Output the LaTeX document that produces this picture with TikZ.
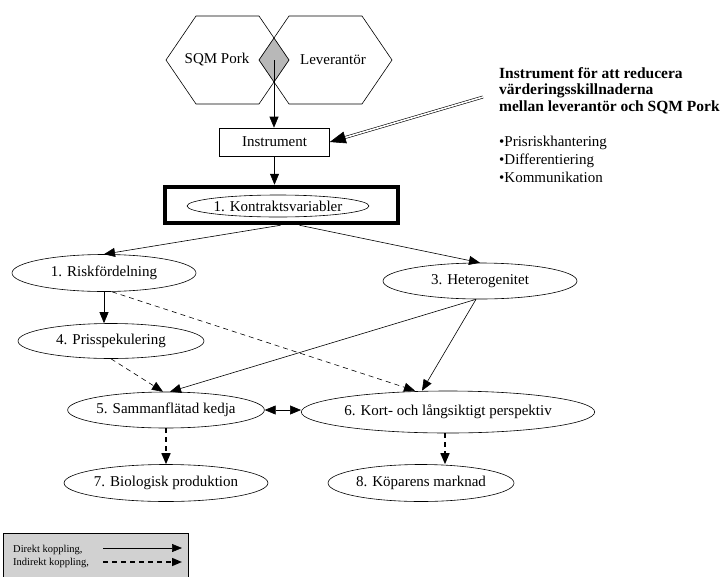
\documentclass[tikz,border=0pt]{standalone}
\usepackage{fontspec}
\setmainfont{Liberation Serif}
\usetikzlibrary{shapes.geometric,arrows.meta,calc}
\begin{document}
\begin{tikzpicture}[x=1pt,y=-1pt,
  every node/.style={font=\fontsize{15}{17}\selectfont},
  ell/.style={draw, ellipse, inner sep=0pt, line width=0.6pt},
  tip/.style={-{Triangle[length=11pt,width=9pt]}},
  ln/.style={line width=0.6pt},
  dsh/.style={line width=0.6pt, dash pattern=on 5pt off 4pt},
  tdsh/.style={line width=1.5pt, dash pattern=on 5pt off 4pt},
  bold/.style={anchor=base west, inner sep=0pt, font=\bfseries\fontsize{15.5}{17}\selectfont},
  bul/.style={anchor=base west, inner sep=0pt, font=\fontsize{15}{17}\selectfont},
  legt/.style={anchor=base west, inner sep=0pt, font=\fontsize{10.5}{12}\selectfont},
]
\useasboundingbox (0,0) rectangle (723,576);

% overlap diamond
\fill[black!28, draw=black!45, line width=0.5pt] (274,38) -- (289,60) -- (274,82) -- (259,60) -- cycle;
% hexagons
\draw[ln] (166,60)--(196,16)--(259,16)--(289,60)--(259,104)--(196,104)--cycle;
\draw[ln] (259,60)--(289,16)--(362,16)--(392,60)--(362,104)--(289,104)--cycle;
\node (sqm) at (217,60) {SQM Pork};
\node (lev) at (333,60) {Leverantör};
\coordinate (dm) at (274,60);

\node[draw, rectangle, line width=0.6pt, minimum width=110, minimum height=28, inner sep=0pt] (instr) at (274.5,142) {Instrument};

\node[draw, rectangle, line width=4.5pt, minimum width=233, minimum height=36, inner sep=0pt] (kbox) at (281.5,205) {};
\node[ell, minimum width=178, minimum height=22] (k) at (278,206) {1. Kontraktsvariabler};

\node[ell, minimum width=184, minimum height=37] (risk) at (104,273) {1. Riskfördelning};
\node[ell, minimum width=186, minimum height=35] (pris) at (111,341) {4. Prisspekulering};
\node[ell, minimum width=194, minimum height=36] (het) at (480,281) {3. Heterogenitet};
\node[ell, minimum width=184, minimum height=36] (samm) at (166,410) {5. Sammanflätad kedja};
\node[ell, minimum width=254, minimum height=42] (kort) at (448,412) {6. Kort- och långsiktigt perspektiv};
\node[ell, minimum width=186, minimum height=37] (bio) at (166,483) {7. Biologisk produktion};
\node[ell, minimum width=186, minimum height=37] (kop) at (421,483) {8. Köparens marknad};

% connectors
\draw[ln,tip] (dm) -- (dm |- instr.north);
\draw[ln,tip] (instr.south) -- (instr.south |- kbox.north);
\draw[ln,tip] ([xshift=-1pt]kbox.south) -- (risk.north);
\draw[ln,tip] ([xshift=18pt]kbox.south) -- (het.north);
\draw[ln,tip] (risk.south) -- (risk.south |- pris.north);
\draw[dsh,tip] (pris.south) -- ([xshift=-3pt]samm.north);
\draw[ln,tip] ([xshift=-4pt]het.south) -- ([xshift=4pt]samm.north);
\draw[ln,tip] ([xshift=-4pt]het.south) -- ([xshift=-26pt]kort.north);
\draw[dsh,tip] ([xshift=8pt]risk.south) -- ([xshift=-33pt]kort.north);
\draw[ln,{Triangle[length=11pt,width=9pt]}-{Triangle[length=11pt,width=9pt]}] (samm.east) -- (samm.east -| kort.west);
\draw[tdsh,tip] (samm.south) -- (samm.south |- bio.north);
\draw[tdsh,tip] ([xshift=-3pt]kort.south) -- ([xshift=-3pt]kort.south |- kop.north);

% annotation
\coordinate (dstart) at (483,97);
\draw[line width=0.6pt, double, double distance=1.6pt, shorten >=14pt] (dstart) -- (instr.east);
\draw[ln,-{Triangle[length=16pt,width=12pt]}] ($(instr.east)!16pt!(dstart)$) -- (instr.east);

\node[bold] (t1) at (499,78) {Instrument för att reducera};
\node[bold] (t2) at (499,94.5) {värderingsskillnaderna};
\node[bold] (t3) at (499,111) {mellan leverantör och SQM Pork};
\node[bul] (b1) at (499,146) {•Prisriskhantering};
\node[bul] (b2) at (499,164) {•Differentiering};
\node[bul] (b3) at (499,182) {•Kommunikation};

% legend
\node[draw, fill=black!18, line width=0.6pt, anchor=north west, minimum width=185, minimum height=50, inner sep=0pt] (leg) at (3,533) {};
\node[legt] (lt1) at (13,552) {Direkt koppling,};
\node[legt] (lt2) at (13,565) {Indirekt koppling,};
\coordinate (la1) at (103,548);
\coordinate (lb1) at (182,548);
\coordinate (la2) at (103,562);
\coordinate (lb2) at (182,562);
\draw[ln,-{Triangle[length=10pt,width=8pt]}] (la1) -- (lb1);
\draw[tdsh,-{Triangle[length=10pt,width=8pt]}] (la2) -- (lb2);
\end{tikzpicture}
\end{document}
